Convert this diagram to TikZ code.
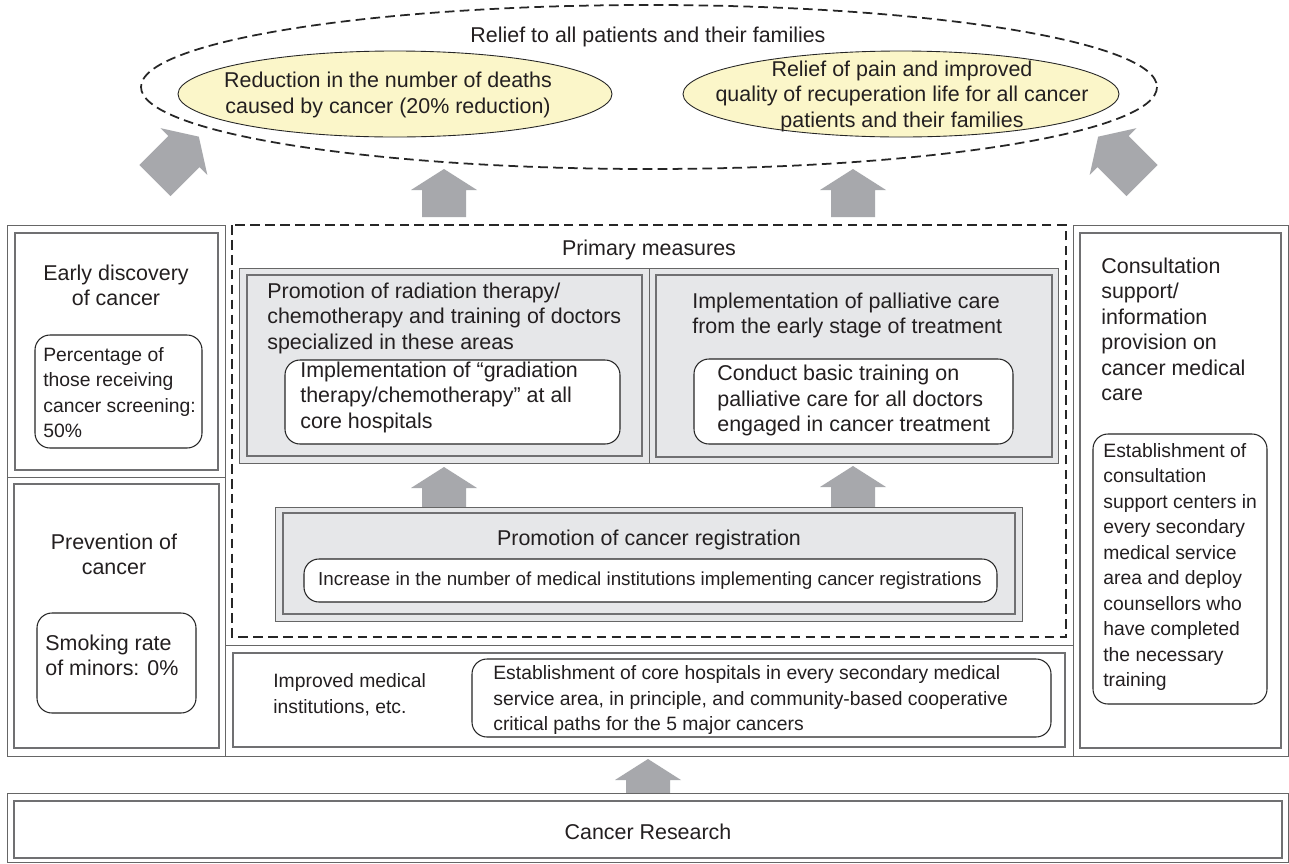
\documentclass[tikz,border=0pt]{standalone}
\usepackage{fontspec}
\setmainfont{Liberation Sans}
\usetikzlibrary{shapes.geometric, positioning, calc}

\definecolor{txtcol}{RGB}{35,31,32}
\definecolor{framegray}{RGB}{112,112,114}
\definecolor{boxfill}{RGB}{230,231,233}
\definecolor{arrowgray}{RGB}{167,168,172}
\definecolor{goalfill}{RGB}{251,246,201}

\tikzset{
  pics/bigarrow/.style={code={
    \fill[arrowgray] (-22,0) -- (22,0) -- (22,{21-#1}) -- (33,{21-#1})
      -- (0,{-#1}) -- (-33,{21-#1}) -- (-22,{21-#1}) -- cycle;
  }}
}

\begin{document}
\begin{tikzpicture}[x=0.02cm, y=-0.02cm,
  every node/.style={font=\fontsize{12.2}{14.5}\selectfont, text=txtcol, inner sep=0pt, align=center},
  small/.style={font=\fontsize{11}{14.5}\selectfont},
  outerline/.style={draw=black!60, line width=0.5pt},
  innerline/.style={draw=framegray, line width=1.1pt},
  roundbox/.style={draw=black!85, line width=0.6pt, fill=white, rounded corners=0.3cm},
  goal/.style={draw=black!85, line width=0.5pt, fill=goalfill},
  dashline/.style={draw=black!85, line width=1pt, dash pattern=on 5.5pt off 3pt},
]
    \fill[white] (0,0) rectangle (1289,863);
    \useasboundingbox (0,0) rectangle (1289,863);

    % Goals
    \draw[dashline] (649,87) ellipse [x radius=508, y radius=82];
    \node (title) at (648,37) {Relief to all patients and their families};
    \draw[goal] (395,94) ellipse [x radius=217, y radius=43];
    \node (deaths) at (388,95) {Reduction in the number of deaths\\caused by cancer (20\% reduction)};
    \draw[goal] (901,94) ellipse [x radius=218, y radius=43];
    \node (quality) at (902,96) {Relief of pain and improved\\quality of recuperation life for all cancer\\patients and their families};

    % Arrows to the goals
    \pic[rotate=-45] at (155,180.5) {bigarrow=62};
    \pic at (444,217) {bigarrow=48};
    \pic at (853,217) {bigarrow=48};
    \pic[rotate=45] at (1142,180.5) {bigarrow=62};

    % Left column
    \draw[outerline] (7,225) rectangle (225,477);
    \draw[innerline] (15,233) rectangle (218,470);
    \node (early) at (116,285.5) {Early discovery\\of cancer};
    \draw[roundbox] (35,335) rectangle (202,448);
    \node[small, anchor=west, align=left] (screening) at (43,392.5) {Percentage of\\those receiving\\cancer screening:\\50\%};

    \draw[outerline] (7,477) rectangle (225,756);
    \draw[innerline] (14,484) rectangle (219,748);
    \node (prevention) at (114,554.5) {Prevention of\\cancer};
    \draw[roundbox] (37,613) rectangle (196,713);
    \node[anchor=west, align=left] (smoking) at (45,655.5) {Smoking rate\\of minors: 0\%};

    % Primary measures
    \draw[dashline] (232,225) rectangle (1066,637);
    \node (primary) at (649,250) {Primary measures};

    \fill[boxfill] (239,268) rectangle (649,463);
    \draw[outerline] (239,268) rectangle (649,463);
    \draw[innerline] (247,275) rectangle (642,456);
    \node[anchor=west, align=left] (radiation) at (267,318) {Promotion of radiation therapy/\\chemotherapy and training of doctors\\specialized in these areas};
    \draw[roundbox] (285,360) rectangle (620,444);
    \node[anchor=west, align=left] (gradiation) at (300,397) {Implementation of “gradiation\\therapy/chemotherapy” at all\\core hospitals};

    \fill[boxfill] (649,268) rectangle (1058,463);
    \draw[outerline] (649,268) rectangle (1058,463);
    \draw[innerline] (656,275) rectangle (1052,457);
    \node[anchor=west, align=left] (palliative) at (692,315.5) {Implementation of palliative care\\from the early stage of treatment};
    \draw[roundbox] (694,359) rectangle (1013,444);
    \node[anchor=west, align=left] (training) at (717,400.5) {Conduct basic training on\\palliative care for all doctors\\engaged in cancer treatment};

    \pic at (444,507) {bigarrow=40};
    \pic at (853,507) {bigarrow=41};

    \fill[boxfill] (275,507) rectangle (1022,621);
    \draw[outerline] (275,507) rectangle (1022,621);
    \draw[innerline] (283,513) rectangle (1015,614);
    \node (registration) at (649,540) {Promotion of cancer registration};
    \draw[roundbox] (304,559) rectangle (997,602);
    \node[font=\fontsize{10.7}{13}\selectfont] (increase) at (650,581) {Increase in the number of medical institutions implementing cancer registrations};

    % Medical institutions
    \draw[outerline] (225,645) rectangle (1073,756);
    \draw[innerline] (233,653) rectangle (1065,747);
    \node[small, anchor=west, align=left] (improved) at (273,694.5) {Improved medical\\institutions, etc.};
    \draw[roundbox] (472,659) rectangle (1051,737);
    \node[small, anchor=west, align=left] (core) at (493,700) {Establishment of core hospitals in every secondary medical\\service area, in principle, and community-based cooperative\\critical paths for the 5 major cancers};

    % Right column
    \draw[outerline] (1073,225) rectangle (1288.5,756);
    \draw[innerline] (1080,233) rectangle (1281,748);
    \node[anchor=west, align=left] (consult) at (1101,329.5) {Consultation\\support/\\information\\provision on\\cancer medical\\care};
    \draw[roundbox] (1093,434) rectangle (1267,704);
    \node[small, anchor=west, align=left] (centers) at (1103,567) {Establishment of\\consultation\\support centers in\\every secondary\\medical service\\area and deploy\\counsellors who\\have completed\\the necessary\\training};

    % Cancer research
    \pic at (648,793) {bigarrow=34};
    \draw[outerline] (7,793) rectangle (1288.5,862.5);
    \draw[innerline] (14,801) rectangle (1282,858);
    \node (research) at (648,832) {Cancer Research};

\end{tikzpicture}
\end{document}
